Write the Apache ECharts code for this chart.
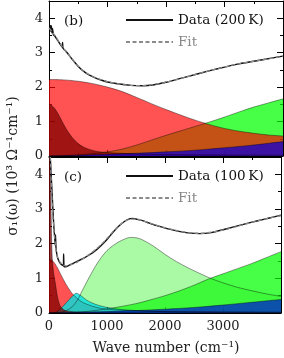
<!DOCTYPE html>
<html><head><meta charset="utf-8">
<script src="https://cdn.jsdelivr.net/npm/echarts@6/dist/echarts.min.js"></script>
<style>html,body{margin:0;padding:0;background:#fff}#c{width:284px;height:358px}</style>
</head><body><div id="c"></div>
<script>
const FONT = '"DejaVu Serif", serif';
// ---------- panel (b) : 200 K ----------
const bDataW = [20,30,40,50,60,75,100,130,160,200,225,232,240,300,400,500,600,700,800,900,1000,1200,1400,1600,1800,2000,2200,2400,2600,2800,3000,3200,3400,3600,3800,4000];
const bDataS = [3.80,3.62,3.78,3.58,3.70,3.52,3.48,3.40,3.33,3.22,3.16,3.30,3.13,3.02,2.80,2.60,2.45,2.34,2.26,2.20,2.15,2.09,2.05,2.04,2.07,2.14,2.23,2.32,2.41,2.50,2.58,2.66,2.72,2.78,2.84,2.90];
const bFitW = [0,100,200,300,400,500,600,700,800,1000,1200,1400,1600,1800,2000,2400,2800,3200,3600,4000];
const bFitS = [3.72,3.50,3.24,3.01,2.80,2.61,2.46,2.35,2.27,2.16,2.09,2.05,2.04,2.08,2.14,2.32,2.50,2.66,2.78,2.89];
const bGreenW = [0,500,750,1000,1250,1500,1750,2000,2250,2500,2750,3000,3250,3500,3750,4000];
const bGreenS = [0,0.03,0.07,0.12,0.20,0.32,0.46,0.60,0.73,0.86,0.99,1.13,1.28,1.42,1.54,1.66];
const bRedW = [0,250,500,750,1000,1250,1500,1750,2000,2250,2500,2750,3000,3250,3500,3750,4000];
const bRedS = [2.22,2.21,2.17,2.10,2.00,1.87,1.70,1.52,1.35,1.19,1.04,0.91,0.80,0.72,0.66,0.61,0.58];
const bDarkW = [0,50,100,150,200,250,300,400,500,600,800,1000,1500,2000,3000,4000];
const bDarkS = [1.49,1.46,1.37,1.24,1.08,0.92,0.77,0.53,0.36,0.25,0.14,0.10,0.06,0.04,0.03,0.02];
const bBlueW = [0,500,1000,1500,2000,2500,3000,3500,4000];
const bBlueS = [0,0.02,0.05,0.08,0.12,0.17,0.24,0.32,0.42];
// ---------- panel (c) : 100 K ----------
const cDataW = [10,25,40,55,70,85,100,108,112,120,140,170,200,230,248,252,260,290,350,400,500,600,700,800,900,1000,1100,1200,1300,1400,1450,1500,1600,1700,1800,1900,2000,2200,2400,2600,2800,3000,3200,3400,3600,3800,4000];
const cDataS = [4.7,4.4,3.9,3.4,2.9,2.45,2.15,1.95,2.25,1.9,1.65,1.50,1.42,1.38,1.36,1.70,1.34,1.33,1.38,1.42,1.50,1.58,1.68,1.80,1.95,2.12,2.32,2.50,2.64,2.72,2.73,2.71,2.67,2.61,2.55,2.50,2.45,2.37,2.31,2.29,2.32,2.40,2.49,2.58,2.66,2.74,2.82];
const cFitW = [0,30,60,90,120,150,200,250,300,400,500,600,700,800,900,1000,1100,1200,1300,1400,1500,1600,1800,2000,2200,2400,2600,2800,3000,3200,3400,3600,3800,4000];
const cFitS = [6.0,4.2,3.0,2.3,1.85,1.6,1.45,1.38,1.36,1.40,1.48,1.58,1.70,1.83,1.98,2.15,2.34,2.51,2.64,2.71,2.71,2.67,2.56,2.46,2.38,2.32,2.30,2.33,2.39,2.48,2.57,2.66,2.74,2.81];
const cGreenW = [0,500,1000,1500,1750,2000,2250,2500,2750,3000,3250,3500,3750,4000];
const cGreenS = [0,0.02,0.12,0.27,0.38,0.50,0.64,0.80,0.98,1.13,1.28,1.43,1.60,1.77];
const cLgW = [0,200,300,400,500,565,700,800,900,1000,1100,1200,1300,1400,1500,1600,1800,2000,2200,2400,2600,2800,3000,3250,3500,3750,4000];
const cLgS = [0,0.02,0.07,0.18,0.40,0.62,1.05,1.35,1.60,1.80,1.94,2.05,2.13,2.18,2.17,2.12,1.93,1.69,1.48,1.30,1.14,0.99,0.87,0.74,0.64,0.55,0.48];
const cRedW = [0,50,100,150,200,250,300,350,400,500,600,800,1000,1500,2000,3000,4000];
const cRedS = [1.55,1.52,1.43,1.29,1.12,0.96,0.81,0.68,0.56,0.40,0.29,0.17,0.11,0.06,0.04,0.03,0.02];
const cCyanW = [0,100,150,200,300,400,470,550,650,800,1000,1250,1500,2000,3000,4000];
const cCyanS = [0,0.01,0.05,0.12,0.30,0.48,0.57,0.50,0.37,0.25,0.16,0.10,0.07,0.04,0.02,0.02];
const cDarkW = [0,20,35,55,80,110,140,170,200,250,300,500,1000,4000];
const cDarkS = [6.0,4.6,3.0,1.6,1.15,0.85,0.52,0.30,0.18,0.10,0.06,0.03,0.015,0];
const cBlueW = [0,1000,1500,2000,2500,3000,3500,4000];
const cBlueS = [0,0.04,0.07,0.11,0.16,0.23,0.31,0.39];

const xTickLabels = [0,1000,2000,3000];
const yTickLabels = [0,1,2,3,4];

const zip = (w,s) => w.map((x,i)=>[x,s[i]]);
const chart = echarts.init(document.getElementById('c'), null, {renderer:'canvas'});

const grids = [
  {left:49, top:1, width:234, height:155},
  {left:49, top:157, width:234, height:156}
];
const blk = {color:'#000', width:1};
const xAxes = [], yAxes = [];
[0,1].forEach(g=>{
  ['bottom','top'].forEach(pos=>{
    xAxes.push({gridIndex:g, type:'value', min:0, max:4000, interval:1000, position:pos,
      axisLine:{show:true, onZero:false, lineStyle:blk},
      axisTick:{show:true, inside:true, length:6, lineStyle:blk},
      minorTick:{show:true, splitNumber:2, length:3, lineStyle:blk},
      splitLine:{show:false},
      axisLabel:{show:(g===1 && pos==='bottom'), margin:7, fontFamily:FONT, fontSize:13, color:'#222',
        formatter:v=> xTickLabels.includes(v)? String(v):''}
    });
  });
  ['left','right'].forEach(pos=>{
    yAxes.push({gridIndex:g, type:'value', min:0, max:4.5, interval:1, position:pos,
      axisLine:{show:true, onZero:false, lineStyle:blk},
      axisTick:{show:true, inside:true, length:6, lineStyle:blk},
      splitLine:{show:false},
      axisLabel:{show:pos==='left', margin:6, fontFamily:FONT, fontSize:13, color:'#222',
        formatter:v=> yTickLabels.includes(v)? String(v):''}
    });
    yAxes.push({gridIndex:g, type:'value', min:0, max:4.5, interval:0.5, position:pos,
      axisLine:{show:false, onZero:false},
      axisTick:{show:true, inside:true, length:3, lineStyle:blk},
      splitLine:{show:false}, axisLabel:{show:false}
    });
  });
});

const edge = {color:'rgba(0,0,0,0.5)', width:0.8};
function comp(g, w, s, fill, name){
  return {type:'line', name:name, xAxisIndex:2*g, yAxisIndex:4*g, data:zip(w,s), smooth:0.3,
    showSymbol:false, symbol:'none', lineStyle:edge, areaStyle:{color:fill, opacity:1}, silent:true, z:2};
}
function curve(g, w, s, name, color, dashed, z){
  return {type:'line', name:name, xAxisIndex:2*g, yAxisIndex:4*g, data:zip(w,s),
    smooth: dashed?0.3:0.15, showSymbol:false, symbol:'none', z:z, silent:true,
    lineStyle:{color:color, width:dashed?1.3:1.4, type:dashed?[4,2.5]:'solid'},
    itemStyle:{color:color}};
}

const series = [
  comp(0,bGreenW,bGreenS,'rgba(0,255,0,0.72)','b1'),
  comp(0,bRedW,bRedS,'rgba(255,0,0,0.68)','b2'),
  comp(0,bDarkW,bDarkS,'rgba(130,0,0,0.75)','b3'),
  comp(0,bBlueW,bBlueS,'rgba(20,0,200,0.78)','b4'),
  curve(0,bDataW,bDataS,'Data (200\u2009K)','#111',false,5),
  curve(0,bFitW,bFitS,'Fit','#8a8a8a',true,6),
  comp(1,cGreenW,cGreenS,'rgba(0,255,0,0.72)','c1'),
  comp(1,cLgW,cLgS,'rgba(50,240,40,0.42)','c2'),
  comp(1,cRedW,cRedS,'rgba(255,0,0,0.68)','c3'),
  comp(1,cCyanW,cCyanS,'rgba(0,225,225,0.8)','c4'),
  comp(1,cDarkW,cDarkS,'rgba(130,0,0,0.75)','c5'),
  comp(1,cBlueW,cBlueS,'rgba(0,40,200,0.8)','c6'),
  curve(1,cDataW,cDataS,'Data (100\u2009K)','#111',false,5),
  curve(1,cFitW,cFitS,'Fit','#8a8a8a',true,6)
];

const legendBase = {orient:'vertical', left:125, padding:0, itemWidth:47, itemHeight:14, itemGap:8,
  selectedMode:false, itemStyle:{opacity:0, borderWidth:0},
  textStyle:{fontFamily:FONT, fontSize:13.5, color:'#111'}};

chart.setOption({
  animation:false,
  backgroundColor:'#fff',
  grid:grids,
  xAxis:xAxes,
  yAxis:yAxes,
  legend:[
    Object.assign({}, legendBase, {top:13, data:[{name:'Data (200\u2009K)'},{name:'Fit', textStyle:{color:'#888'}}]}),
    Object.assign({}, legendBase, {top:169, data:[{name:'Data (100\u2009K)'},{name:'Fit', textStyle:{color:'#888'}}]})
  ],
  graphic:[
    {type:'text', left:64, top:14, style:{text:'(b)', font:'13.5px '+FONT, fill:'#111'}},
    {type:'text', left:64, top:170, style:{text:'(c)', font:'13.5px '+FONT, fill:'#111'}},
    {type:'text', x:166, y:348, style:{text:'Wave number (cm\u207B\u00B9)', font:'14px '+FONT, fill:'#222', align:'center', verticalAlign:'middle'}},
    {type:'text', x:13, y:166, rotation:Math.PI/2, style:{text:'\u03C3\u2081(\u03C9) (10\u00B3 \u03A9\u207B\u00B9cm\u207B\u00B9)', font:'14px '+FONT, fill:'#222', align:'center', verticalAlign:'middle'}}
  ],
  series:series
});
</script></body></html>
